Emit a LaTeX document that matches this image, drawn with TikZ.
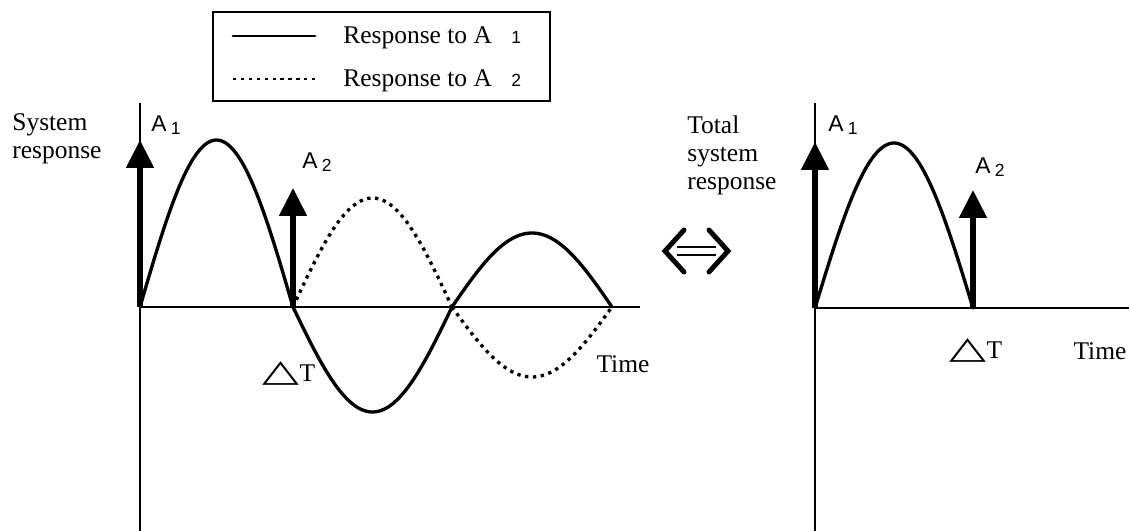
\documentclass[tikz,border=0pt]{standalone}
\usepackage{graphicx}
\usepackage{fontspec}
\setmainfont{Liberation Serif}
\newfontfamily\labfont{Liberation Sans}
\newfontfamily\trifont{DejaVu Sans}
\usetikzlibrary{arrows.meta, positioning}
\newcommand{\Asub}[1]{{\labfont\fontsize{13}{15}\selectfont A\kern2.5pt\raisebox{-0.3ex}{\fontsize{10}{12}\selectfont #1}}}
\newcommand{\legsub}[1]{{\labfont\fontsize{10}{12}\selectfont #1}}
\newcommand{\dT}{\scalebox{1.52}[0.98]{\trifont\bfseries\fontsize{18}{20}\selectfont\char"25B3}T}

\begin{document}
\begin{tikzpicture}[
    x=0.02cm, y=-0.02cm,
    axis/.style={line width=1.5pt},
    resp/.style={line width=1.9pt, line cap=round, line join=round},
    dotresp/.style={resp, line cap=butt, dash pattern=on 1.9pt off 2.6pt},
    impulse/.style={line width=2.9pt, -{Triangle[width=0.54cm, length=0.56cm]}},
    lbl/.style={font=\fontsize{14.5}{16}\selectfont, inner sep=0pt},
    multilbl/.style={lbl, align=left, anchor=north west}
]
\useasboundingbox (0,0) rectangle (1130,531);

\coordinate (oL) at (140,307);
\coordinate (topL) at (140,103);
\coordinate (botL) at (140,531);
\coordinate (endL) at (640,307);
\coordinate (a1L) at (140,140);
\coordinate (dtL) at (293,307);
\coordinate (a2L) at (293,188);

\coordinate (oR) at (815,308);
\coordinate (topR) at (815,103);
\coordinate (botR) at (815,531);
\coordinate (endR) at (1129,308);
\coordinate (a1R) at (815,142);
\coordinate (dtR) at (973,308);
\coordinate (a2R) at (973,190);

\draw[axis] (topL) -- (botL);
\draw[axis] (oL) -- (endL);
\draw[axis] (topR) -- (botR);
\draw[axis] (oR) -- (endR);

\foreach \a/\b/\amp in {140/293/167, 293/452/-105, 452/612/74}
    \draw[resp] plot[domain=\a:\b, samples=60, smooth] (\x, {307-\amp*sin(180/(\b-\a)*(\x-\a))});
\foreach \a/\b/\amp in {293/452/109, 452/612/-70}
    \draw[dotresp] plot[domain=\a:\b, samples=60, smooth] (\x, {307-\amp*sin(180/(\b-\a)*(\x-\a))});
\draw[resp] plot[domain=815:973, samples=60, smooth] (\x, {308-165*sin(180/158*(\x-815))});

\draw[impulse] (oL) -- (a1L);
\draw[impulse] (dtL) -- (a2L);
\draw[impulse] (oR) -- (a1R);
\draw[impulse] (dtR) -- (a2R);

\node[lbl] (a1Llab) at (166,125) {\Asub{1}};
\node[lbl] (a2Llab) at (317,162) {\Asub{2}};
\node[lbl] (a1Rlab) at (843,125) {\Asub{1}};
\node[lbl] (a2Rlab) at (990,167) {\Asub{2}};

\node[lbl] (dtLlab) at (289,373) {\dT};
\node[lbl] (dtRlab) at (976,350) {\dT};
\node[lbl] (timeL) at (623,364) {Time};
\node[lbl] (timeR) at (1100,351) {Time};

\node[multilbl] (sysL) at (12,113) {System\\response};
\node[multilbl] (sysR) at (687,115) {Total\\system\\response};

\draw[line width=1.2pt] (213,12) rectangle (550,101);
\coordinate (leg1a) at (233,36);
\coordinate (leg1b) at (315,36);
\coordinate (leg2a) at (233,79);
\coordinate (leg2b) at (315,79);
\draw[resp, line width=1.6pt] (leg1a) -- (leg1b);
\draw[dotresp, line width=1.4pt] (leg2a) -- (leg2b);
\node[lbl, anchor=west] (leg1) at (343,38) {Response to A\kern11pt\legsub{1}};
\node[lbl, anchor=west] (leg2) at (343,81) {Response to A\kern11pt\legsub{2}};

\draw[line width=2.8pt, line cap=round, line join=miter] (684,230) -- (665,251) -- (684,272);
\draw[line width=2.8pt, line cap=round, line join=miter] (709,230) -- (728,251) -- (709,272);
\draw[line width=1.6pt] (677,247) -- (716,247);
\draw[line width=1.6pt] (677,255) -- (716,255);
\end{tikzpicture}
\end{document}
